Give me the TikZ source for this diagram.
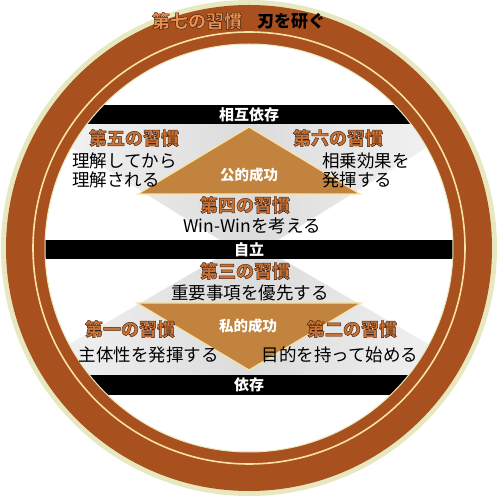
\documentclass[tikz,border=0pt]{standalone}
\usepackage{fontspec}
\setmainfont{Noto Sans CJK JP}

\definecolor{ringbrown}{RGB}{168,80,30}
\definecolor{ringcream}{RGB}{250,226,165}
\definecolor{ringhalo}{RGB}{232,232,192}
\definecolor{pyramid}{RGB}{193,131,62}
\definecolor{habitorange}{RGB}{206,114,52}
\definecolor{sevenorange}{RGB}{236,146,78}

% orange habit titles get a thin dark rim
\newcommand\rimtext[1]{\special{pdf:code q 2 Tr 0.45 w 0.25 0.14 0.08 RG}#1\special{pdf:code Q}}

\tikzset{
  habit/.style={font=\bfseries\fontsize{18}{18}\selectfont, text=habitorange, inner sep=0pt},
  habitdesc/.style={font=\fontsize{17.5}{19}\selectfont, inner sep=0pt, align=left},
  barlabel/.style={font=\bfseries\fontsize{15}{15}\selectfont, text=white, inner sep=0pt},
  floor/.style={left color=black!3, right color=black!3, middle color=black!14},
  pyramidface/.style={draw=ringcream, line width=1.2, fill=pyramid},
}

\begin{document}
\begin{tikzpicture}[x=1pt,y=1pt]
  \useasboundingbox (-249,-252) rectangle (251,248);
  \fill[ringhalo] (0,0) circle (248);

  \begin{scope}
    \clip (0,0) circle (204);
    \fill[white] (-204,-204) rectangle (204,204);
    \shade[floor] (0,-10) -- (-230,133) -- (230,133) -- cycle;
    \shade[floor] (0,8) -- (-250,-137) -- (250,-137) -- cycle;
    \fill[black] (-204,124) rectangle (204,143);
    \fill[black] (-204,-11) rectangle (204,8);
    \fill[black] (-204,-147) rectangle (204,-127);
  \end{scope}

  \draw[pyramidface] (0,121) -- (-111,54) -- (111,54) -- cycle;
  \draw[pyramidface] (-112,-55) -- (112,-55) -- (0,-122) -- cycle;

  % ring
  \fill[ringbrown, even odd rule] (0,0) circle (243) (0,0) circle (204);
  \draw[ringcream, line width=1.6] (0,0) circle (216);
  \draw[ringhalo, line width=1] (0,0) circle (204);

  \node[habit, text=sevenorange] (habit7) at (-52,227) {\rimtext{第七の習慣}};
  \node[font=\bfseries\fontsize{17}{17}\selectfont, inner sep=0pt] (desc7) at (42,227) {刃を研ぐ};

  \node[barlabel] (interdep) at (0,133.5) {相互依存};
  \node[barlabel] (indep) at (0,-1.5) {自立};
  \node[barlabel] (dep) at (0,-137) {依存};

  \node[barlabel, font=\bfseries\fontsize{14.5}{14.5}\selectfont] (public) at (0,73) {公的成功};
  \node[barlabel, font=\bfseries\fontsize{14.5}{14.5}\selectfont] (private) at (-1,-78) {私的成功};

  \node[habit] (habit5) at (-115,110) {\rimtext{第五の習慣}};
  \node[habitdesc, anchor=west] (desc5) at (-177,77.5) {理解してから\\理解される};
  \node[habit] (habit6) at (89,110) {\rimtext{第六の習慣}};
  \node[habitdesc, anchor=west] (desc6) at (73,77.5) {相乗効果を\\発揮する};

  \node[habit] (habit4) at (-4,43) {\rimtext{第四の習慣}};
  \node[habitdesc] (desc4) at (3,22) {Win-Winを考える};
  \node[habit] (habit3) at (-4,-23) {\rimtext{第三の習慣}};
  \node[habitdesc] (desc3) at (1,-45) {重要事項を優先する};

  \node[habit] (habit1) at (-119,-81) {\rimtext{第一の習慣}};
  \node[habitdesc] (desc1) at (-100,-107) {主体性を発揮する};
  \node[habit] (habit2) at (103,-81) {\rimtext{第二の習慣}};
  \node[habitdesc] (desc2) at (91,-107) {目的を持って始める};
\end{tikzpicture}
\end{document}
